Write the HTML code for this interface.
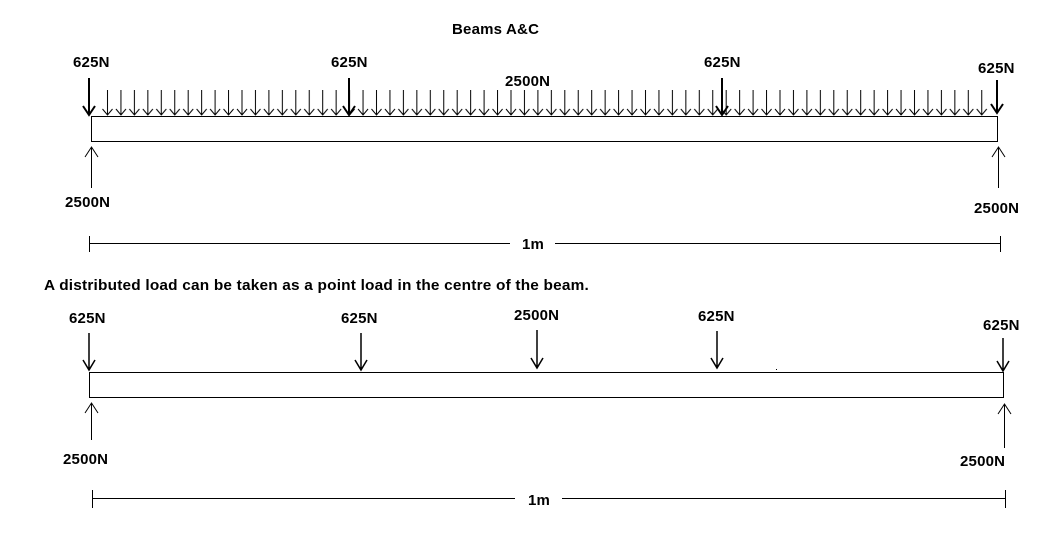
<!DOCTYPE html>
<html><head><meta charset="utf-8"><style>
html,body{margin:0;padding:0;background:#fff;}
svg{display:block}
text{font-family:"Liberation Sans",Arial,sans-serif;font-weight:bold;font-size:15px;letter-spacing:0.2px;fill:#000}
</style></head><body>
<svg width="1051" height="542" viewBox="0 0 1051 542" xmlns="http://www.w3.org/2000/svg">
<defs>
<pattern id="udl" x="101" y="88" width="13.45" height="30" patternUnits="userSpaceOnUse">
<path d="M6.5 2 V27 M1.5 21 L6.5 27 L11.5 21" stroke="#000" stroke-width="1" fill="none"/>
</pattern>
</defs>
<g stroke="#000" fill="none">
<rect x="91.5" y="116.5" width="906" height="25" stroke-width="1"/>
<rect x="101" y="88" width="888" height="29" fill="url(#udl)" stroke="none"/>
<g stroke-width="2">
<path d="M89 78 V115 M83 106 L89 115 L95 106"/>
<path d="M349 78 V115 M343 106 L349 115 L355 106"/>
<path d="M722 78 V115 M716 106 L722 115 L728 106"/>
<path d="M997 80 V113 M991 104 L997 113 L1003 104"/>
</g>
<path d="M91.5 188 V147 M85 157 L91.5 147 L98 157"/>
<path d="M998.5 188 V147 M992 157 L998.5 147 L1005 157"/>
<path d="M89.5 236 V252 M89.5 243.5 H510 M555 243.5 H1000.5 M1000.5 236 V252"/>
<rect x="89.5" y="372.5" width="914" height="25" stroke-width="1"/>
<g stroke-width="1.5">
<path d="M89 333 V370 M83 360 L89 370 L95 360"/>
<path d="M361 333 V370 M355 360 L361 370 L367 360"/>
<path d="M537 330 V368 M531 358 L537 368 L543 358"/>
<path d="M717 331 V368 M711 358 L717 368 L723 358"/>
<path d="M1003 338 V371 M997 361 L1003 371 L1009 361"/>
</g>
<path d="M91.5 440 V403 M85 413 L91.5 403 L98 413"/>
<path d="M1004.5 448 V404 M998 414 L1004.5 404 L1011 414"/>
<path d="M92.5 490 V508 M92.5 498.5 H515 M562 498.5 H1005.5 M1005.5 490 V508"/>
</g>
<rect x="776" y="369" width="1" height="1" fill="#000"/>
<text x="452" y="34">Beams A&amp;C</text>
<text x="73" y="67">625N</text>
<text x="331" y="67">625N</text>
<text x="704" y="67">625N</text>
<text x="978" y="73">625N</text>
<text x="505" y="86">2500N</text>
<text x="65" y="207">2500N</text>
<text x="974" y="213">2500N</text>
<text x="522" y="249">1m</text>
<text x="44" y="290" textLength="545" lengthAdjust="spacingAndGlyphs">A distributed load can be taken as a point load in the centre of the beam.</text>
<text x="69" y="323">625N</text>
<text x="341" y="323">625N</text>
<text x="514" y="320">2500N</text>
<text x="698" y="321">625N</text>
<text x="983" y="330">625N</text>
<text x="63" y="464">2500N</text>
<text x="960" y="466">2500N</text>
<text x="528" y="505">1m</text>
</svg>
</body></html>
